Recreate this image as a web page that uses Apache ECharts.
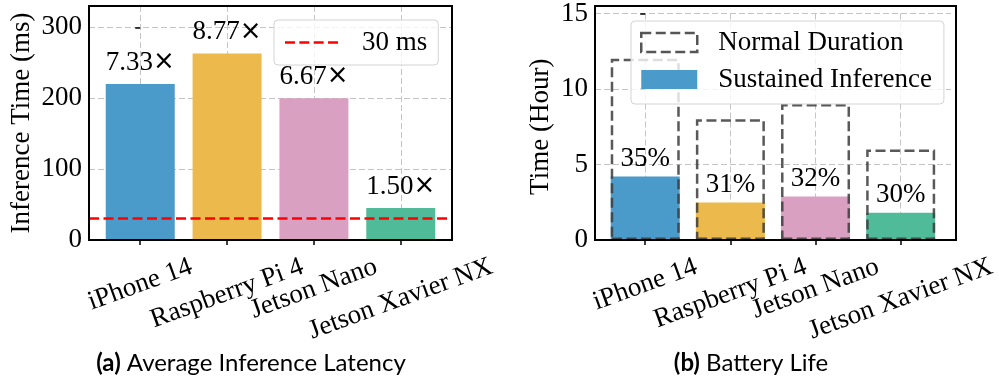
<!DOCTYPE html>
<html>
<head>
<meta charset="utf-8">
<script src="https://cdn.jsdelivr.net/npm/echarts@6/dist/echarts.min.js"></script>
<style>
html,body{margin:0;padding:0;background:#fff;}
#chart{width:999px;height:385px;}
</style>
</head>
<body>
<div id="chart"></div>
<script>
const categories = ['iPhone 14', 'Raspberry Pi 4', 'Jetson Nano', 'Jetson Xavier NX'];
const latency = [220, 263, 200, 45];
const speedupLabels = ['7.33', '8.77', '6.67', '1.50'];
const targetLatency = 30;
const latencyTicks = [0, 100, 200, 300];
const normalHours = [12, 8, 9, 6];
const sustainedHours = [4.2, 2.48, 2.88, 1.8];
const batteryLabels = ['35%', '31%', '32%', '30%'];
const hourTicks = [0, 5, 10, 15];

const barColors = ['#4a9bc9', '#ecb94c', '#d9a0c1', '#4fbb99'];
const SERIF = 'Liberation Serif';
const FS = 27;
const gridLine = { color: '#c4c4c4', width: 1, type: [6, 3] };
const idx = categories.map((c, i) => i);
const G1 = { left: 89, top: 6, width: 363, height: 234 };
const G2 = { left: 595, top: 6, width: 361, height: 234 };

// Emulate "rotated bounding box top-aligned, centred on tick" label placement
const ROT = 20, rad = ROT * Math.PI / 180;
const ctx = document.createElement('canvas').getContext('2d');
ctx.font = FS + 'px "' + SERIF + '"';
const lblW = categories.map(c => ctx.measureText(c).width);
const lblH = lblW.map(w => w * Math.sin(rad) + 19 * Math.cos(rad));
const hMin = Math.min(...lblH);
const rich = {};
categories.forEach((c, i) => {
  const d = (lblH[i] - hMin) / 2;
  rich['l' + i] = { fontFamily: SERIF, fontSize: FS, color: '#000',
    padding: [2 * d * Math.cos(rad), 2 * d * Math.sin(rad), 0, 0] };
});
const baseMargin = 15 + hMin / 2 + 2;

function xAxis(gridIndex) {
  return {
    type: 'value', gridIndex, min: -0.59, max: 3.59,
    axisLine: { show: false },
    splitLine: { show: true, lineStyle: gridLine },
    axisTick: { show: true, length: 5, customValues: idx, lineStyle: { color: '#000', width: 1.5 } },
    axisLabel: {
      customValues: idx, rotate: ROT, align: 'center', verticalAlign: 'middle', margin: baseMargin,
      fontFamily: SERIF, fontSize: FS, color: '#000', rich,
      formatter: v => { const i = Math.round(v); return '{l' + i + '|' + categories[i] + '}'; }
    }
  };
}
function yAxis(gridIndex, max, interval, ticks, name, nameGap) {
  return {
    type: 'value', gridIndex, min: 0, max, interval,
    name, nameLocation: 'middle', nameGap,
    nameTextStyle: { fontFamily: SERIF, fontSize: FS, color: '#000' },
    axisLine: { show: false },
    axisTick: { show: true, length: 5, customValues: ticks, lineStyle: { color: '#000', width: 1.5 } },
    axisLabel: { customValues: ticks, fontFamily: SERIF, fontSize: FS, color: '#000', margin: 7 },
    splitLine: { show: true, lineStyle: gridLine }
  };
}
function frame(g) {
  return { type: 'rect', z: 100, silent: true,
    shape: { x: g.left, y: g.top, width: g.width, height: g.height },
    style: { fill: 'none', stroke: '#000', lineWidth: 2 } };
}
const capStyle = { fontFamily: 'Lato', fontSize: 24, fontWeight: 'normal', color: '#000',
  rich: { b: { fontFamily: 'Lato', fontSize: 24, fontWeight: 'bold', color: '#000' } } };

const option = {
  animation: false,
  backgroundColor: '#fff',
  grid: [G1, G2],
  xAxis: [xAxis(0), xAxis(1)],
  yAxis: [
    yAxis(0, 330, 100, latencyTicks, 'Inference Time (ms)', 54),
    yAxis(1, 15, 5, hourTicks, 'Time (Hour)', 41)
  ],
  graphic: [frame(G1), frame(G2)],
  title: [
    { text: '{b|(a)} Average Inference Latency', left: 251, top: 351, textAlign: 'center', padding: 0, textStyle: capStyle },
    { text: '{b|(b)} Battery Life', left: 751, top: 351, textAlign: 'center', padding: 0, textStyle: capStyle }
  ],
  legend: [
    {
      left: 274, top: 20, padding: [9, 11, 9, 11], orient: 'vertical',
      backgroundColor: 'rgba(255,255,255,0.8)', borderColor: '#d4d4d4', borderWidth: 1, borderRadius: 4,
      itemWidth: 53, itemHeight: 3,
      textStyle: { fontFamily: SERIF, fontSize: FS, color: '#000', padding: [0, 0, 0, 19] },
      data: [{ name: '30 ms',
        icon: 'path://M0,0h10v2.5h-10z M14.4,0h10v2.5h-10z M28.8,0h10v2.5h-10z M43.2,0h10v2.5h-10z',
        itemStyle: { color: '#ff0000' } }]
    },
    {
      left: 631, top: 21, padding: [8, 12, 11, 9], orient: 'vertical', itemGap: 10,
      backgroundColor: 'rgba(255,255,255,0.8)', borderColor: '#d4d4d4', borderWidth: 1, borderRadius: 4,
      itemWidth: 56, itemHeight: 19,
      textStyle: { fontFamily: SERIF, fontSize: FS, color: '#000', padding: [0, 0, 0, 16] },
      data: [
        { name: 'Normal Duration', icon: 'rect',
          itemStyle: { color: 'rgba(0,0,0,0)', borderColor: '#555', borderWidth: 2.5, borderType: [10, 4.5] } },
        { name: 'Sustained Inference', icon: 'rect', itemStyle: { color: barColors[0] } }
      ]
    }
  ],
  series: [
    {
      type: 'bar', name: 'Latency', xAxisIndex: 0, yAxisIndex: 0, barWidth: 69, z: 2,
      data: latency.map((v, i) => ({ value: [i, v], itemStyle: { color: barColors[i] } })),
      label: { show: true, position: 'top', distance: 8, fontFamily: SERIF, fontSize: FS, color: '#000',
        formatter: p => speedupLabels[p.dataIndex] + '{x|×}',
        rich: { x: { fontFamily: 'DejaVu Sans', fontSize: 26, color: '#000' } } }
    },
    {
      type: 'line', name: '30 ms', xAxisIndex: 0, yAxisIndex: 0, data: [], z: 6,
      markLine: { z: 6, silent: true, symbol: 'none', label: { show: false }, emphasis: { disabled: true },
        lineStyle: { color: '#ff0000', width: 2.5, type: [10, 4.5] },
        data: [{ yAxis: targetLatency }] }
    },
    {
      type: 'bar', name: 'Sustained Inference', xAxisIndex: 1, yAxisIndex: 1, barWidth: 69, barGap: '-100%', z: 2,
      itemStyle: { color: barColors[0] },
      data: sustainedHours.map((v, i) => ({ value: [i, v], itemStyle: { color: barColors[i] } })),
      label: { show: true, position: 'top', distance: 4, fontFamily: SERIF, fontSize: FS, color: '#000',
        formatter: p => batteryLabels[p.dataIndex] }
    },
    {
      type: 'bar', name: 'Normal Duration', xAxisIndex: 1, yAxisIndex: 1, barWidth: 69, barGap: '-100%', z: 3,
      itemStyle: { color: 'rgba(0,0,0,0)', borderColor: 'rgba(60,60,60,0.85)', borderWidth: 2.5, borderType: [10, 4.5] },
      data: normalHours.map((v, i) => [i, v])
    }
  ]
};
const chart = echarts.init(document.getElementById('chart'), null, { renderer: 'canvas' });
chart.setOption(option);
</script>
</body>
</html>
